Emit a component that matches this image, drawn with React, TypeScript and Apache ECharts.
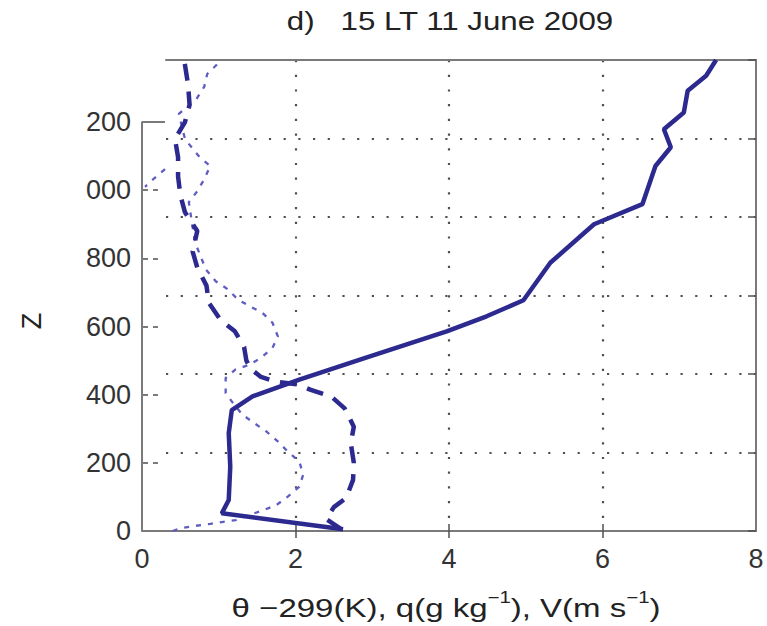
import React, { useEffect, useRef } from "react";
import * as echarts from "echarts";

// ---- axes / ticks ----
const xMin = 0;
const xMax = 8;
const xStep = 2;
const xInnerTicks = [2, 4, 6];
const yTickValues = [0, 200, 400, 600, 800, 1000, 1200];
const yTickLabels = ["0", "200", "400", "600", "800", "000", "200"];
const yInnerTicks = [200, 400, 600, 800, 1000];
const zMax = 1382;
const gridRows = 6;
const frameLeftX = 0.3;
const leftAxisTop = 1200;

// ---- theta - 299 (K), solid ----
const thetaV = [2.62, 1.04, 1.13, 1.15, 1.13, 1.17, 1.44, 1.75, 2.05, 2.92, 3.97, 4.49, 4.97, 5.32, 5.89, 6.52, 6.69, 6.89, 6.80, 7.06, 7.11, 7.35, 7.48];
const thetaZ = [5, 52, 91, 189, 287, 355, 395, 420, 444, 509, 586, 630, 677, 787, 900, 959, 1071, 1126, 1179, 1228, 1292, 1336, 1382];

// ---- q (g/kg), dashed ----
const qV = [2.60, 2.40, 2.50, 2.66, 2.75, 2.76, 2.72, 2.76, 2.64, 2.47, 2.20, 2.03, 1.75, 1.55, 1.42, 1.36, 1.33, 1.21, 1.02, 0.87, 0.84, 0.72, 0.66, 0.72, 0.56, 0.50, 0.47, 0.47, 0.43, 0.56, 0.62, 0.60, 0.55];
const qZ = [5, 35, 70, 97, 150, 200, 258, 306, 360, 394, 414, 430, 438, 452, 475, 500, 540, 586, 620, 670, 720, 773, 820, 880, 935, 985, 1040, 1097, 1150, 1200, 1250, 1310, 1382];

// ---- V (m/s), dotted ----
const wV = [0.40, 0.50, 0.69, 0.89, 1.06, 1.22, 1.40, 1.59, 1.75, 1.90, 2.05, 2.10, 2.05, 1.90, 1.77, 1.62, 1.46, 1.31, 1.20, 1.09, 1.09, 1.22, 1.40, 1.55, 1.70, 1.77, 1.70, 1.57, 1.40, 1.25, 1.12, 0.96, 0.83, 0.77, 0.69, 0.61, 0.72, 0.81, 0.89, 0.75, 0.56, 0.48, 0.71, 0.81, 0.85, 1.01];
const wZ = [0, 8, 15, 21, 27, 32, 47, 62, 76, 101, 130, 165, 204, 233, 263, 292, 317, 341, 371, 405, 449, 474, 488, 508, 537, 571, 611, 640, 660, 679, 709, 733, 768, 803, 847, 965, 997, 1032, 1071, 1097, 1150, 1224, 1268, 1303, 1341, 1376];
const wSpurV = [0.30, 0.16, 0.04];
const wSpurZ = [1062, 1035, 1010];

const zip = (a: number[], b: number[]) => a.map((v, i) => [v, b[i]]);

const BLUE = "#2c2a8f";
const BLUE_LIGHT = "#5f5cc2";
const FRAME = "#7a7a7a";
const DOTS = "#505050";
const FONT = "Liberation Sans";

export default function App() {
  const ref = useRef<HTMLDivElement>(null);
  useEffect(() => {
    if (!ref.current) return;
    const chart = echarts.init(ref.current, undefined, { renderer: "svg" });
    const dotted = { color: DOTS, width: 2.2, type: [2.2, 12.5] as any };
    const option: any = {
      animation: false,
      backgroundColor: "#ffffff",
      grid: [
        { left: 142, right: 11, top: 60, bottom: 95 },
        { left: 166, right: 11, top: 60, bottom: 95 },
      ],
      xAxis: [
        {
          gridIndex: 0, type: "value", min: xMin, max: xMax, interval: xStep, position: "bottom",
          axisLine: { show: true, onZero: false, lineStyle: { color: FRAME, width: 2 } },
          axisTick: { show: true, inside: true, length: 7, customValues: xInnerTicks, lineStyle: { color: DOTS, width: 1.5 } },
          axisLabel: { fontSize: 27, fontFamily: FONT, color: "#333", margin: 14 },
          splitLine: { show: true, lineStyle: dotted },
        },
        {
          gridIndex: 0, type: "value", min: xMin, max: xMax, interval: xStep, position: "top",
          axisLine: { show: false },
          axisTick: { show: true, inside: true, length: 7, customValues: xInnerTicks, lineStyle: { color: DOTS, width: 1.5 } },
          axisLabel: { show: false },
          splitLine: { show: false },
        },
        {
          gridIndex: 1, type: "value", min: 0, max: 1, position: "top",
          axisLine: { show: true, onZero: false, lineStyle: { color: FRAME, width: 2 } },
          axisTick: { show: false }, axisLabel: { show: false }, splitLine: { show: false },
        },
      ],
      yAxis: [
        {
          gridIndex: 0, type: "value", min: 0, max: zMax, interval: 200,
          axisLine: { show: false },
          axisTick: { show: true, inside: true, length: 16, customValues: yInnerTicks, lineStyle: { color: DOTS, width: 1.5, type: [6, 5] } },
          axisLabel: {
            customValues: yTickValues,
            formatter: (v: number) => yTickLabels[yTickValues.indexOf(v)] ?? "",
            fontSize: 27, fontFamily: FONT, color: "#333", margin: 11,
          },
          splitLine: { show: false },
        },
        {
          gridIndex: 1, type: "value", min: 0, max: gridRows, interval: 1, position: "right",
          axisLine: { show: true, onZero: false, lineStyle: { color: FRAME, width: 2 } },
          axisTick: { show: true, inside: true, length: 8, lineStyle: { color: DOTS, width: 1.5 } },
          axisLabel: { show: false },
          splitLine: { show: true, showMinLine: false, showMaxLine: false, lineStyle: dotted },
        },
      ],
      series: [
        {
          name: "frame", type: "line", xAxisIndex: 0, yAxisIndex: 0, silent: true,
          data: [[xMin, 0], [xMin, leftAxisTop], [frameLeftX, leftAxisTop]],
          symbol: "none", lineStyle: { color: FRAME, width: 2 }, z: 1,
        },
        {
          name: "V", type: "line", xAxisIndex: 0, yAxisIndex: 0, data: zip(wV, wZ),
          symbol: "none", lineStyle: { color: BLUE_LIGHT, width: 2.3, type: [5, 7] }, z: 3,
        },
        {
          name: "V spur", type: "line", xAxisIndex: 0, yAxisIndex: 0, data: zip(wSpurV, wSpurZ),
          symbol: "none", lineStyle: { color: BLUE_LIGHT, width: 2.3, type: [5, 7] }, z: 3,
        },
        {
          name: "q", type: "line", xAxisIndex: 0, yAxisIndex: 0, data: zip(qV, qZ),
          symbol: "none", lineStyle: { color: BLUE, width: 4.5, type: [17, 11] }, z: 4,
        },
        {
          name: "theta", type: "line", xAxisIndex: 0, yAxisIndex: 0, data: zip(thetaV, thetaZ),
          symbol: "none", lineStyle: { color: BLUE, width: 4.5 }, z: 5,
        },
      ],
      graphic: [
        {
          type: "text", x: 450, y: 21, scaleX: 1.25,
          style: { text: "d)   15 LT 11 June 2009", font: `25px "${FONT}"`, fill: "#222", align: "center", verticalAlign: "middle" },
        },
        {
          type: "text", x: 446, y: 605, scaleX: 1.27,
          style: {
            text: "{n|θ −299(K), q(g kg}{s|−1}{n|), V(m s}{s|−1}{n|)}",
            font: `26px "${FONT}"`, fill: "#222", align: "center", verticalAlign: "middle",
            rich: {
              n: { fontSize: 26, fontFamily: FONT, lineHeight: 32, verticalAlign: "bottom", fill: "#222" },
              s: { fontSize: 16, fontFamily: FONT, lineHeight: 16, verticalAlign: "top", fill: "#222" },
            },
          },
        },
        {
          type: "text", x: 32, y: 321, rotation: Math.PI / 2,
          style: { text: "Z", font: `27px "${FONT}"`, fill: "#222", align: "center", verticalAlign: "middle" },
        },
      ],
    };
    chart.setOption(option);
    return () => chart.dispose();
  }, []);
  return <div ref={ref} style={{ position: "absolute", left: 0, top: 0, width: 767, height: 626 }} />;
}
